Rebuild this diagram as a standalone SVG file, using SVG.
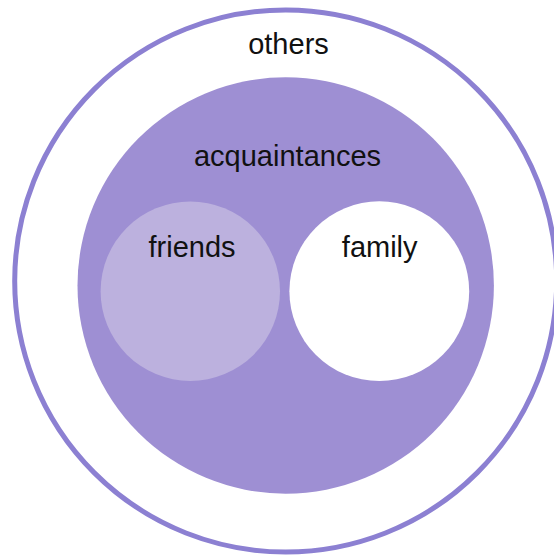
<svg xmlns="http://www.w3.org/2000/svg" width="554" height="557" viewBox="0 0 554 557">
  <style>
    .lbl { font-family: "Liberation Sans", Arial, sans-serif; font-size: 29px; fill: #111111; text-anchor: middle; }
  </style>
  <rect width="554" height="557" fill="#ffffff"/>
  <g id="others">
    <circle cx="285.7" cy="281" r="271" fill="#ffffff" stroke="#8c80d2" stroke-width="5"/>
    <text class="lbl" x="288.5" y="53.5">others</text>
  </g>
  <g id="acquaintances">
    <circle cx="285.7" cy="285.5" r="208.2" fill="#9e8fd3"/>
    <text class="lbl" x="287.5" y="165.7">acquaintances</text>
  </g>
  <g id="friends">
    <circle cx="190.3" cy="291.2" r="89.7" fill="#bcb1de"/>
    <text class="lbl" x="192" y="256.7">friends</text>
  </g>
  <g id="family">
    <circle cx="379.3" cy="291.2" r="89.9" fill="#ffffff"/>
    <text class="lbl" x="379.7" y="256.7">family</text>
  </g>
  <g id="connectors"/>
</svg>
